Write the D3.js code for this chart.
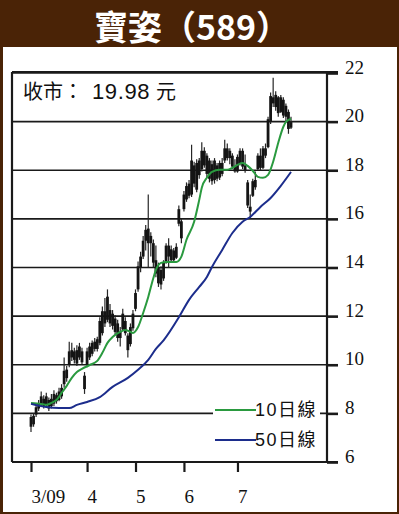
<!DOCTYPE html>
<html>
<head>
<meta charset="utf-8">
<script src="https://cdn.jsdelivr.net/npm/d3@7"></script>
<style>
  body { margin: 0; background: #fff; }
  svg { display: block; }
</style>
</head>
<body>
<script>
// daily candles, March - July 2009 (index = trading day)
const opens = [7.85,7.55,7.95,8.2,8.4,8.6,8.35,8.55,8.3,8.4,8.75,8.55,8.7,9.2,9.8,10.0,10.6,10.2,10.6,10.3,
  10.55,9.55,10.0,10.3,10.45,10.95,10.65,10.9,11.3,12.2,11.85,12.25,11.6,11.9,11.7,11.1,11.45,11.8,11.2,10.85,
  11.5,12.3,13.1,14.0,14.45,15.1,15.6,15.0,15.0,14.3,14.0,13.3,13.55,14.25,14.9,14.3,14.7,14.4,15.8,15.9,
  16.4,16.8,17.45,17.0,18.2,17.2,18.4,18.05,18.8,18.6,17.65,18.25,17.6,18.2,17.7,18.3,18.4,18.9,18.5,18.6,
  18.15,17.95,18.3,18.8,18.2,17.5,16.5,16.95,17.6,18.05,18.6,18.1,18.9,18.95,20.0,21.0,20.6,21.0,20.4,20.9,
  20.2,20.4,19.75];
const highs = [7.95,8.0,8.35,8.55,8.9,8.75,8.85,8.65,8.8,8.95,8.85,9.05,9.2,10.3,9.95,10.95,10.9,10.7,10.8,10.9,
  10.7,9.7,10.7,10.9,11.0,11.1,11.15,11.95,12.4,12.75,13.1,12.5,12.25,12.05,11.85,11.55,12.3,11.95,11.3,11.7,
  12.25,13.1,14.25,14.65,15.3,15.75,17.0,15.45,15.15,14.9,14.2,14.05,14.3,15.0,15.2,14.9,14.8,15.0,16.55,16.0,
  17.15,17.5,17.6,19.05,18.35,18.45,18.5,19.15,18.95,18.7,18.5,18.4,18.5,18.3,18.4,18.5,19.25,19.1,18.9,18.7,
  18.45,18.65,18.9,18.9,18.65,17.6,17.0,17.65,17.95,18.7,18.9,19.0,19.1,20.2,21.2,21.8,21.25,21.05,21.1,21.0,
  20.75,20.5,20.2];
const lows = [7.23,7.45,7.85,8.1,8.3,8.2,8.3,8.1,8.2,8.3,8.4,8.5,8.6,9.05,9.3,9.9,10.15,10.05,9.95,10.2,
  10.0,8.8,9.9,10.2,10.35,10.55,10.55,10.8,11.2,11.55,11.75,11.55,11.45,11.25,10.95,10.75,11.4,11.2,10.3,10.75,
  11.4,12.2,13.0,13.8,14.35,14.7,14.0,14.45,14.0,13.6,13.2,13.1,13.45,14.15,14.0,14.2,14.2,14.35,15.7,15.0,
  16.3,16.7,16.85,16.9,17.3,17.1,17.65,17.95,18.1,17.7,17.5,17.4,17.45,17.55,17.6,17.75,18.3,18.4,18.25,18.05,
  17.9,17.9,18.2,18.05,17.9,16.45,16.0,16.9,17.2,18.0,18.0,18.05,18.5,18.9,19.9,20.6,20.45,20.2,20.35,20.15,
  20.0,19.5,19.7];
const closes = [7.45,7.9,8.25,8.4,8.7,8.3,8.7,8.2,8.6,8.8,8.5,8.9,9.05,9.75,9.45,10.55,10.3,10.55,10.05,10.75,
  10.1,9.0,10.55,10.75,10.9,10.65,11.05,11.8,12.2,11.7,12.8,11.7,12.1,11.35,11.1,11.35,12.1,11.3,10.6,11.55,
  12.1,12.95,14.05,14.45,15.1,15.55,15.0,15.3,14.2,13.75,13.35,13.9,14.2,14.9,14.45,14.75,14.3,14.85,16.4,15.2,
  17.0,17.35,16.95,18.4,17.45,18.3,17.8,18.8,18.2,17.85,18.4,17.55,18.4,17.65,18.3,17.85,18.9,18.5,18.8,18.15,
  17.95,18.55,18.8,18.15,18.0,16.55,16.3,17.55,17.3,18.6,18.1,18.9,18.6,20.1,21.05,20.75,21.1,20.35,21.0,20.25,
  20.65,19.7,19.98];

// moving averages: [trading day, price]
const ma10 = [[0,8.43],[4,8.39],[6,8.35],[8,8.43],[10,8.55],[12,8.84],[14,9.13],[16,9.46],[18,9.7],[20,9.83],
  [23,9.99],[26,10.16],[28,10.49],[30,10.9],[32,11.14],[35,11.35],[37,11.43],[39,11.35],[40,11.31],[42,11.55],
  [44,12.13],[46,12.79],[48,13.57],[49,13.9],[51,14.19],[53,14.23],[55,14.23],[57,14.23],[59,14.45],[61,15.14],
  [64,15.88],[66,16.78],[67,17.28],[69,17.69],[71,17.93],[74,18.02],[77,18.02],[79,18.1],[81,18.22],[83,18.3],
  [85,18.18],[87,17.98],[89,17.73],[91,17.69],[93,17.81],[95,18.35],[97,19.13],[99,19.79],[100,19.99],[102,20.12]];
const ma50 = [[0,8.39],[6,8.26],[11,8.22],[15,8.22],[18,8.35],[22,8.47],[27,8.67],[32,9.09],[38,9.46],[42,9.79],
  [46,10.2],[49,10.65],[52,11.0],[58,11.95],[62,12.67],[66,13.2],[69,13.61],[71,14.02],[75,14.72],[79,15.42],
  [83,15.88],[86,16.08],[90,16.49],[94,16.86],[98,17.36],[102,17.93]];

const monthDays = [0, 22, 41, 60, 81];
const monthLabels = ["3/09", "4", "5", "6", "7"];
const priceTicks = [6, 8, 10, 12, 14, 16, 18, 20, 22];
const legendItems = [
  {name: "10日線", color: "#2a9a3f", data: ma10},
  {name: "50日線", color: "#1c2d8c", data: ma50}
];

const WIDTH = 399;
const HEIGHT = 514;
const BROWN = "#4a2306";
const LEFT = 12, RIGHT = 327, TOP = 72, BOTTOM = 462;
const CJK = "'Noto Sans CJK TC', sans-serif";

var svg = d3.select("body").append("svg")
    .attr("width", WIDTH)
    .attr("height", HEIGHT);

// frame + title band
svg.append("rect").attr("x", 0).attr("y", 0).attr("width", WIDTH).attr("height", HEIGHT).attr("fill", BROWN);
svg.append("rect").attr("x", 3).attr("y", 47).attr("width", WIDTH - 5).attr("height", HEIGHT - 49).attr("fill", "#fff");

svg.append("text")
    .attr("x", 192).attr("y", 40)
    .attr("text-anchor", "middle")
    .attr("fill", "#fff")
    .style("font-family", CJK)
    .style("font-weight", "bold")
    .style("font-size", "34px")
    .text("寶姿（589）");

var x = d3.scaleLinear().domain([0, opens.length - 1]).range([31, 291]);
var y = d3.scaleLinear().domain([6, 22]).range([BOTTOM, 73]);

// horizontal grid
svg.append("g").selectAll("line")
    .data(priceTicks)
    .enter().append("line")
    .attr("x1", LEFT).attr("x2", RIGHT)
    .attr("y1", function(d) { return y(d); })
    .attr("y2", function(d) { return y(d); })
    .attr("stroke", "#1a1a1a")
    .attr("stroke-width", 1.6);

// plot border: left, top, bottom
svg.append("line").attr("x1", LEFT).attr("x2", LEFT).attr("y1", TOP).attr("y2", BOTTOM)
    .attr("stroke", "#1a1a1a").attr("stroke-width", 2.2);
svg.append("line").attr("x1", LEFT).attr("x2", 338).attr("y1", TOP).attr("y2", TOP)
    .attr("stroke", "#1a1a1a").attr("stroke-width", 2.2);
svg.append("line").attr("x1", LEFT).attr("x2", 338).attr("y1", BOTTOM).attr("y2", BOTTOM)
    .attr("stroke", "#1a1a1a").attr("stroke-width", 2.2);

// right price axis
var yAxis = d3.axisRight(y).tickValues(priceTicks).tickSize(11).tickFormat(d3.format("d"));
var yg = svg.append("g")
    .attr("transform", "translate(" + RIGHT + ",0)")
    .call(yAxis);
yg.select(".domain").attr("stroke", "#1a1a1a").attr("stroke-width", 2.2)
    .attr("d", "M0," + TOP + "V" + BOTTOM);
yg.selectAll(".tick line").attr("stroke", "#1a1a1a").attr("stroke-width", 2.6);
yg.selectAll(".tick text")
    .attr("x", 18).attr("dy", 0)
    .attr("fill", "#111")
    .style("font-family", "'Liberation Serif', serif")
    .style("font-size", "19px");

// month axis
var xAxis = d3.axisBottom(x).tickValues(monthDays).tickSize(10)
    .tickFormat(function(d, i) { return monthLabels[i]; });
var xg = svg.append("g")
    .attr("transform", "translate(0," + BOTTOM + ")")
    .call(xAxis);
xg.select(".domain").remove();
xg.selectAll(".tick line").attr("stroke", "#1a1a1a").attr("stroke-width", 2.2);
xg.selectAll(".tick text")
    .attr("text-anchor", "start")
    .attr("x", 0).attr("y", 41).attr("dy", 0)
    .attr("fill", "#111")
    .style("font-family", "'Liberation Serif', serif")
    .style("font-size", "19px");

// candles
var candles = svg.append("g").selectAll("g")
    .data(d3.range(opens.length))
    .enter().append("g");

candles.append("line")
    .attr("x1", function(i) { return x(i); })
    .attr("x2", function(i) { return x(i); })
    .attr("y1", function(i) { return y(highs[i]); })
    .attr("y2", function(i) { return y(lows[i]); })
    .attr("stroke", "#262626")
    .attr("stroke-width", 1.2);

candles.append("rect")
    .attr("x", function(i) { return x(i) - 1.4; })
    .attr("width", 2.8)
    .attr("y", function(i) { return y(Math.max(opens[i], closes[i])); })
    .attr("height", function(i) { return Math.max(1.2, Math.abs(y(opens[i]) - y(closes[i]))); })
    .attr("fill", "#141414");

// moving averages
var maLine = d3.line()
    .x(function(d) { return x(d[0]); })
    .y(function(d) { return y(d[1]); })
    .curve(d3.curveMonotoneX);

legendItems.forEach(function(item) {
  svg.append("path")
      .attr("d", maLine(item.data))
      .attr("fill", "none")
      .attr("stroke", item.color)
      .attr("stroke-width", 2);
});

// close label
var closeLabel = svg.append("text")
    .attr("y", 99)
    .attr("fill", "#111")
    .style("font-size", "20px");
closeLabel.append("tspan").attr("x", 23).style("font-family", CJK).text("收市：");
closeLabel.append("tspan").attr("x", 92)
    .style("font-family", "'Liberation Sans', sans-serif")
    .style("font-size", "22px")
    .style("letter-spacing", "0.6px")
    .text(d3.format(".2f")(closes[closes.length - 1]));
closeLabel.append("tspan").attr("x", 156).style("font-family", CJK).text("元");

// legend
svg.append("rect").attr("x", 213).attr("y", 398).attr("width", 107).attr("height", 54).attr("fill", "#fff");
var lg = svg.append("g").selectAll("g")
    .data(legendItems)
    .enter().append("g")
    .attr("transform", function(d, i) { return "translate(215," + (410 + i * 30) + ")"; });
lg.append("line").attr("x1", 0).attr("x2", 41).attr("y1", 0).attr("y2", 0)
    .attr("stroke", function(d) { return d.color; }).attr("stroke-width", 2);
lg.append("text")
    .attr("x", 40).attr("y", 0).attr("dy", "0.36em")
    .attr("fill", "#111")
    .style("font-family", "'Liberation Sans', 'Noto Sans CJK TC', sans-serif")
    .style("font-size", "18px")
    .style("letter-spacing", "1.5px")
    .text(function(d) { return d.name; });
</script>
</body>
</html>
